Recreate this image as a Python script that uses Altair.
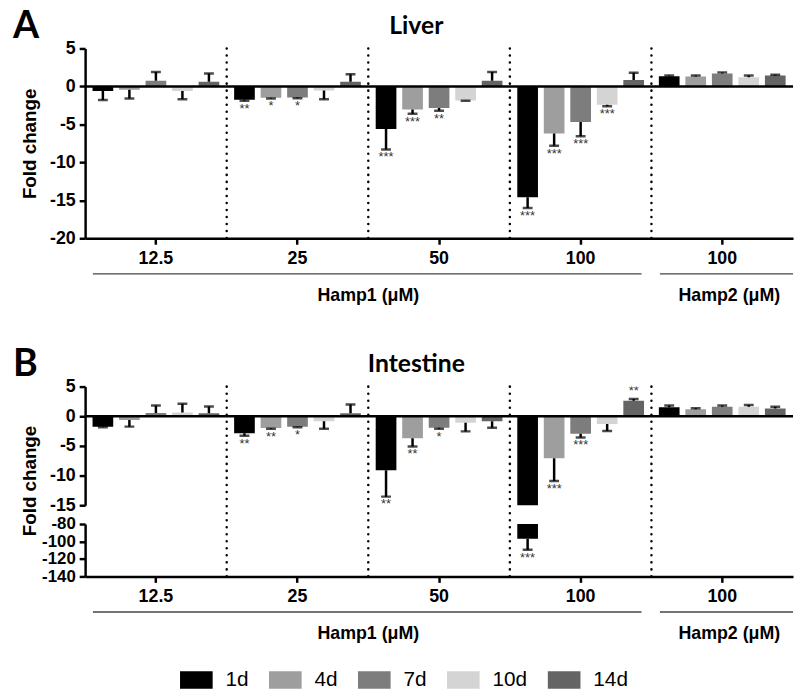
import altair as alt
import pandas as pd

groups = ["g1", "g2", "g3", "g4", "g5"]
group_labels = ["12.5", "25", "50", "100", "100"]
boundary_groups = ["g2", "g3", "g4", "g5"]
days = ["1d", "4d", "7d", "10d", "14d"]
day_colors = ["#000000", "#9e9e9e", "#7d7d7d", "#d4d4d4", "#646464"]

liver_mean = [
    [-0.6, -0.45, 0.75, -0.6, 0.6],
    [-1.75, -1.5, -1.45, -0.55, 0.6],
    [-5.6, -3.05, -2.85, -1.85, 0.75],
    [-14.6, -6.2, -4.7, -2.4, 0.85],
    [1.35, 1.3, 1.7, 1.2, 1.45],
]
liver_err = [
    [1.2, 1.15, 1.15, 1.1, 1.1],
    [0.15, 0.1, 0.1, 1.15, 1.0],
    [2.7, 0.55, 0.35, 0.05, 1.15],
    [1.4, 1.6, 1.85, 0.2, 0.95],
    [0.08, 0.15, 0.15, 0.25, 0.08],
]
liver_sig = [
    ["", "", "", "", ""],
    ["**", "*", "*", "", ""],
    ["***", "***", "**", "", ""],
    ["***", "***", "***", "***", ""],
    ["", "", "", "", ""],
]
intestine_mean = [
    [-1.75, -0.65, 0.55, 0.65, 0.5],
    [-2.85, -2.0, -1.75, -0.85, 0.5],
    [-9.1, -3.7, -1.95, -1.1, -0.85],
    [-97.0, -7.1, -2.95, -1.3, 2.6],
    [1.5, 1.2, 1.6, 1.6, 1.3],
]
intestine_err = [
    [0.1, 1.1, 1.25, 1.45, 1.15],
    [0.45, 0.1, 0.1, 1.25, 1.5],
    [4.45, 1.4, 0.15, 1.45, 1.1],
    [12.5, 3.8, 0.65, 1.2, 0.3],
    [0.3, 0.15, 0.2, 0.3, 0.3],
]
intestine_sig = [
    ["", "", "", "", ""],
    ["**", "**", "*", "", ""],
    ["**", "**", "*", "", ""],
    ["***", "***", "***", "", "**"],
    ["", "", "", "", ""],
]
hamp_labels = ["Hamp1 (μM)", "Hamp2 (μM)"]


def long_df(mean, err, sig):
    rows = []
    for gi, g in enumerate(groups):
        for di, d in enumerate(days):
            v = mean[gi][di]
            e = err[gi][di]
            rows.append({"group": g, "day": d, "value": v,
                         "end": v - e if v < 0 else v + e,
                         "sig": sig[gi][di]})
    return pd.DataFrame(rows)


liver_df = long_df(liver_mean, liver_err, liver_sig)
intestine_df = long_df(intestine_mean, intestine_err, intestine_sig)
bound_df = pd.DataFrame({"group": boundary_groups})
zero_df = pd.DataFrame({"z": [0]})

W = 716
LABEL_FONT = "Liberation Sans"
TITLE_FONT = "Lato"

xscale = alt.Scale(domain=groups, paddingInner=0, paddingOuter=0)
offscale = alt.Scale(domain=days, paddingInner=0.22, paddingOuter=0.28)
label_expr = f"{group_labels!r}[indexof({groups!r}, datum.value)]"

xaxis = alt.Axis(title=None, labelExpr=label_expr, labelFont=LABEL_FONT,
                 labelFontWeight="bold", labelFontSize=18, labelColor="black",
                 labelAngle=0, labelPadding=5, domainColor="black", domainWidth=2.5,
                 tickColor="black", tickWidth=2.5, tickSize=6, grid=False)

legend = alt.Legend(title=None, orient="none", legendX=96, legendY=622,
                    direction="horizontal", symbolType="M-1,-0.53H1V0.53H-1Z",
                    symbolSize=1089, symbolStrokeWidth=0, symbolOpacity=1,
                    labelFont=LABEL_FONT, labelFontSize=21, labelColor="black",
                    labelOffset=13, columnPadding=20)
color = alt.Color("day:N", scale=alt.Scale(domain=days, range=day_colors), legend=legend)


def yaxis(values, title=None, title_y=None, size=18):
    kw = dict(values=values, labelExpr="'' + datum.value", labelFont=LABEL_FONT,
              labelFontWeight="bold", labelFontSize=size, labelColor="black",
              labelPadding=4, labelOverlap=False, labelFlush=False,
              domainColor="black", domainWidth=2.5, tickColor="black",
              tickWidth=2.5, tickSize=6, grid=False)
    if title:
        kw.update(title=title, titleFont=LABEL_FONT, titleFontWeight="bold",
                  titleFontSize=19, titleColor="black", titleAngle=270,
                  titleAlign="center", titleBaseline="bottom", titleX=-46,
                  titleY=title_y)
    else:
        kw.update(title=None)
    return alt.Axis(**kw)


def panel(df, domain, height, yax, show_x, zero_line, rule_span=None,
          letter=None, title=None):
    ys = alt.Scale(domain=domain, nice=False, zero=False)
    xa = xaxis if show_x else None
    X = alt.X("group:N", scale=xscale, axis=xa)
    XO = alt.XOffset("day:N", scale=offscale)
    base = alt.Chart(df)
    layers = []
    layers.append(base.mark_bar(clip=True).encode(
        x=X, xOffset=XO, y=alt.Y("value:Q", scale=ys, axis=yax),
        y2=alt.datum(0), color=color))
    # dotted separators
    sep = alt.Chart(bound_df).mark_rule(strokeDash=[0.1, 7], strokeCap="round",
                                        strokeWidth=2.5, color="black")
    if rule_span is None:
        sep = sep.encode(x=alt.X("group:N", scale=xscale, axis=xa, bandPosition=0))
    else:
        sep = sep.encode(x=alt.X("group:N", scale=xscale, axis=xa, bandPosition=0),
                         y=alt.datum(rule_span[0], scale=ys, axis=yax),
                         y2=alt.datum(rule_span[1]))
    layers.append(sep)
    if zero_line:
        layers.append(alt.Chart(zero_df).mark_rule(strokeWidth=2.5, color="black").encode(
            y=alt.Y("z:Q", scale=ys, axis=yax)))
    layers.append(base.mark_rule(clip=True, strokeWidth=2.5, color="black").encode(
        x=X, xOffset=XO, y=alt.Y("value:Q", scale=ys, axis=yax), y2="end:Q"))
    layers.append(base.mark_tick(clip=True, size=10, thickness=2.5, color="black").encode(
        x=X, xOffset=XO, y=alt.Y("end:Q", scale=ys, axis=yax)))
    layers.append(base.transform_filter("datum.sig != '' && datum.value < 0").mark_text(
        clip=True, baseline="top", dy=2, font=LABEL_FONT, fontSize=13, color="#333333").encode(
        x=X, xOffset=XO, y=alt.Y("end:Q", scale=ys, axis=yax), text="sig:N"))
    layers.append(base.transform_filter("datum.sig != '' && datum.value > 0").mark_text(
        clip=True, baseline="bottom", dy=-1, font=LABEL_FONT, fontSize=13, color="#333333").encode(
        x=X, xOffset=XO, y=alt.Y("end:Q", scale=ys, axis=yax), text="sig:N"))
    if show_x:
        h1 = alt.Chart(pd.DataFrame({"s": ["g1"], "e": ["g4"], "m": ["g3"], "t": [hamp_labels[0]]}))
        h2 = alt.Chart(pd.DataFrame({"s": ["g5"], "e": ["g5"], "m": ["g5"], "t": [hamp_labels[1]]}))
        layers.append(h1.mark_rule(strokeWidth=1.5, color="#444444").encode(
            x=alt.X("s:N", scale=xscale, axis=xa, bandPosition=0.055),
            x2=alt.X2("e:N", bandPosition=0.93), y=alt.value(height + 36)))
        layers.append(h2.mark_rule(strokeWidth=1.5, color="#444444").encode(
            x=alt.X("s:N", scale=xscale, axis=xa, bandPosition=0.06),
            x2=alt.X2("e:N", bandPosition=1.0), y=alt.value(height + 36)))
        layers.append(h1.mark_text(font=LABEL_FONT, fontWeight="bold", fontSize=18,
                                   color="black", baseline="alphabetic").encode(
            x=alt.X("m:N", scale=xscale, axis=xa, bandPosition=0),
            y=alt.value(height + 63), text="t:N"))
        layers.append(h2.mark_text(font=LABEL_FONT, fontWeight="bold", fontSize=18,
                                   color="black", baseline="alphabetic").encode(
            x=alt.X("m:N", scale=xscale, axis=xa, bandPosition=0.55),
            y=alt.value(height + 63), text="t:N"))
    if letter:
        layers.append(alt.Chart(pd.DataFrame({"t": [letter]})).mark_text(
            align="left", baseline="alphabetic", font=TITLE_FONT, fontWeight="bold",
            fontSize=38, color="black").encode(
            x=alt.value(-73), y=alt.value(-11), text="t:N"))
    if title:
        layers.append(alt.Chart(pd.DataFrame({"t": [title]})).mark_text(
            align="center", baseline="alphabetic", font=TITLE_FONT, fontWeight="bold",
            fontSize=25, color="black").encode(
            x=alt.value(W / 2 - 23), y=alt.value(-15), text="t:N"))
    return alt.layer(*layers).properties(width=W, height=height)


top = panel(liver_df, [-20, 5], 192, yaxis([5, 0, -5, -10, -15, -20], "Fold change", 96),
            True, True, letter="A", title="Liver")
upper = panel(intestine_df, [-15, 5], 120,
              yaxis([5, 0, -5, -10, -15], "Fold change", 95),
              False, True, letter="B", title="Intestine")
lower = panel(intestine_df, [-140, -80], 53, yaxis([-80, -100, -120, -140], size=17),
              True, False, rule_span=(-140, -58))

inner = alt.vconcat(upper, lower, spacing=19, bounds="flush").resolve_scale(color="shared")
chart = alt.vconcat(top, inner, spacing=150, bounds="flush").resolve_scale(
    color="shared").properties(
    padding={"left": 5, "right": 0, "top": -4, "bottom": 0}
).configure_view(stroke=None)

chart.save("out.html", embed_options={"renderer": "svg", "actions": False})
